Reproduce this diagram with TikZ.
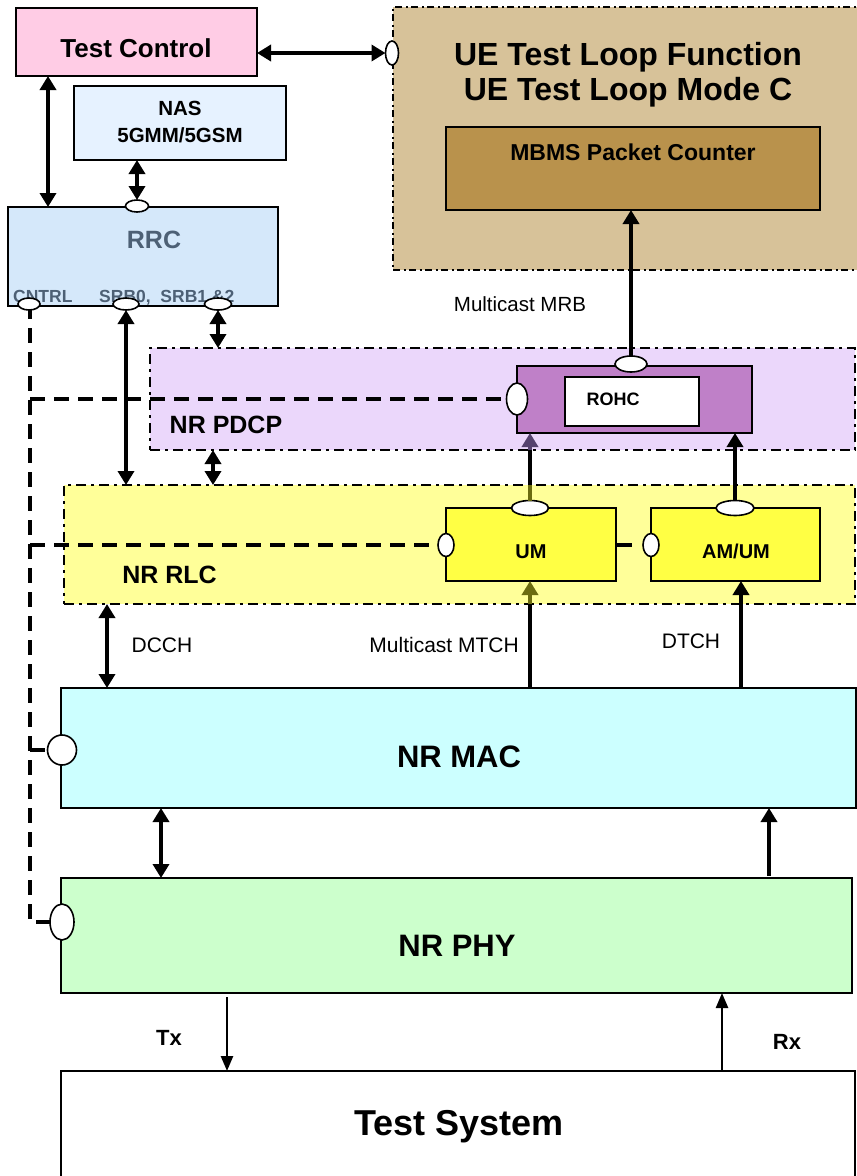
\documentclass[tikz,border=0pt]{standalone}
\usepackage{fontspec}
\setmainfont{Liberation Sans}
\usetikzlibrary{arrows.meta,shapes.geometric,fit}
\newcommand\myfs[1]{\fontsize{#1pt}{#1pt}\selectfont}
\definecolor{tcc}{HTML}{FFCCE5}
\definecolor{nasc}{HTML}{E6F2FF}
\definecolor{rrcc}{HTML}{D5E8FA}
\definecolor{slate}{HTML}{4D6075}
\definecolor{uetan}{HTML}{D7C299}
\definecolor{mbmsc}{HTML}{B9924C}
\definecolor{pdcpc}{HTML}{EBD7FB}
\definecolor{rohcc}{HTML}{BF80C8}
\definecolor{rlcc}{HTML}{FFFF99}
\definecolor{umc}{HTML}{FFFF44}
\definecolor{macc}{HTML}{CCFFFF}
\definecolor{phyc}{HTML}{CCFFCC}
\definecolor{olivec}{HTML}{6B6B10}
\definecolor{purplec}{HTML}{55426E}
\tikzset{
  box/.style={draw, line width=1.6pt, inner sep=0pt, outer sep=0pt},
  cont/.style={draw, line width=2.4pt, dash pattern=on 10pt off 5pt on 3pt off 5pt, inner sep=0pt, outer sep=0pt},
  port/.style={ellipse, draw, fill=white, line width=1.6pt, inner sep=0pt, outer sep=0pt},
  ctrl/.style={line width=3.2pt, dash pattern=on 15pt off 9pt},
  arrboth/.style={line width=4pt, {Triangle[length=14pt,width=16pt]}-{Triangle[length=14pt,width=16pt]}},
  arrend/.style={line width=4pt, -{Triangle[length=14pt,width=16pt]}},
  arrthin/.style={line width=2.5pt, -{Triangle[length=15pt,width=12pt]}},
  txt/.style={anchor=base, inner sep=0pt},
}
\begin{document}
\begin{tikzpicture}[x=1pt,y=-1pt]
\useasboundingbox (0,0) rectangle (857,1176);
\fill[white] (0,0) rectangle (857,1176);

% column coordinates
\coordinate (cA) at (48,0);
\coordinate (cC) at (213,0);
\coordinate (cD) at (107,0);
\coordinate (cE) at (161,0);
\coordinate (cF) at (741,0);
\coordinate (cG) at (769,0);
\coordinate (cH) at (227,0);
\coordinate (cI) at (722,0);
\coordinate (cJ) at (30,0);
% port positions
\coordinate (c_ue) at (392,53);
\coordinate (c_rohcl) at (517,399);
\coordinate (c_uml) at (446,545);
\coordinate (c_amuml) at (651,545);
\coordinate (c_mac) at (62,750);
\coordinate (c_phy) at (62,922);
\coordinate (c_cntrl) at (29,304);

% containers
\node[cont, line width=1.8pt, dash pattern=on 7pt off 3.5pt on 2pt off 3.5pt, fill=uetan, fit={(393,7)(866,270)}] (ue) {};
\node[cont, fill=pdcpc, fit={(150,348)(855,450)}] (pdcp) {};
\node[cont, fill=rlcc, fit={(64,485)(855,604)}] (rlc) {};

% boxes
\node[box, fill=tcc, fit={(16,8)(257,76)}] (tc) {};
\node[box, fill=nasc, fit={(74,86)(286,160)}] (nas) {};
\node[box, fill=rrcc, fit={(8,207)(278,306)}] (rrc) {};
\node[box, fill=mbmsc, fit={(446,127)(820,210)}] (mbms) {};
\node[box, fill=macc, fit={(61,688)(856,808)}] (mac) {};
\node[box, fill=phyc, fit={(61,878)(852,993)}] (phy) {};
\node[box, line width=2pt, fill=white, fit={(61,1071)(855,1192)}] (ts) {};
\node[box, fill=rohcc, fit={(517,366)(752,433)}] (rohc) {};
\node[box, fill=white, fit={(565,377)(699,426)}] (rohcin) {};
\node[box, fill=umc, fit={(446,508)(616,581)}] (um) {};
\node[box, fill=umc, fit={(651,508)(820,581)}] (amum) {};

% control (dashed) lines
\draw[ctrl] (c_cntrl -| cJ) -- (c_phy -| cJ) -- (c_phy);
\draw[ctrl] (c_rohcl -| cJ) -- (c_rohcl);
\draw[ctrl] (c_uml -| cJ) -- (c_uml);
\draw[ctrl] (c_mac -| cJ) -- (c_mac);
\draw[ctrl, dash pattern=on 16pt off 30pt] (um.east |- c_amuml) -- (c_amuml);

% texts
\node[txt, font=\bfseries\myfs{26}] (t_tc) at (136,57) {Test Control};
\node[txt, font=\bfseries\myfs{20.5}] (t_nas1) at (180,115) {NAS};
\node[txt, font=\bfseries\myfs{20.5}] (t_nas2) at (180,142) {5GMM/5GSM};
\node[txt, font=\bfseries\myfs{25}, text=slate] (t_rrc) at (154,248) {RRC};
\node[txt, anchor=base west, font=\bfseries\myfs{17.5}, text=slate] (t_cntrl) at (13,302) {CNTRL};
\node[txt, anchor=base west, font=\bfseries\myfs{17.5}, text=slate] (t_srb) at (99,302) {SRB0,\ \ SRB1 \&2};
\node[txt, font=\bfseries\myfs{32}] (t_ue1) at (628,65) {UE Test Loop Function};
\node[txt, font=\bfseries\myfs{32}] (t_ue2) at (628,100) {UE Test Loop Mode C};
\node[txt, font=\bfseries\myfs{23}] (t_mbms) at (633,160) {MBMS Packet Counter};
\node[txt, font=\myfs{20.5}] (t_mrb) at (520,311) {Multicast MRB};
\node[txt, font=\bfseries\myfs{18}] (t_rohc) at (613,405) {ROHC};
\node[txt, font=\bfseries\myfs{25}] (t_pdcp) at (226,433) {NR PDCP};
\node[txt, font=\bfseries\myfs{25}] (t_rlc) at (169.5,583) {NR RLC};
\node[txt, font=\bfseries\myfs{20}] (t_um) at (531,558) {UM};
\node[txt, font=\bfseries\myfs{20}] (t_amum) at (736,558) {AM/UM};
\node[txt, font=\myfs{21}] (t_dcch) at (162,652) {DCCH};
\node[txt, anchor=base east, font=\myfs{21}] (t_mtch) at (519,652) {Multicast MTCH};
\node[txt, font=\myfs{21}] (t_dtch) at (691,648) {DTCH};
\node[txt, font=\bfseries\myfs{31}] (t_mac) at (459,767) {NR MAC};
\node[txt, font=\bfseries\myfs{31}] (t_phy) at (457,956) {NR PHY};
\node[txt, font=\bfseries\myfs{22}] (t_tx) at (169,1045) {Tx};
\node[txt, font=\bfseries\myfs{22}] (t_rx) at (787,1049) {Rx};
\node[txt, font=\bfseries\myfs{36}] (t_ts) at (459,1135) {Test System};

% ports
\node[port, minimum width=13pt, minimum height=24pt] (p_ue) at (c_ue) {};
\node[port, minimum width=21pt, minimum height=32pt] (p_rohcl) at (c_rohcl) {};
\node[port, minimum width=16pt, minimum height=23pt] (p_uml) at (c_uml) {};
\node[port, minimum width=16pt, minimum height=23pt] (p_amuml) at (c_amuml) {};
\node[port, minimum width=29pt, minimum height=30pt] (p_mac) at (c_mac) {};
\node[port, minimum width=24pt, minimum height=36pt] (p_phy) at (c_phy) {};
\node[port, minimum width=22pt, minimum height=12pt] (p_cntrl) at (c_cntrl) {};
\node[port, minimum width=23pt, minimum height=12pt] (p_rrc) at (137,206) {};
\node[port, minimum width=26pt, minimum height=12pt] (p_srb0) at (126,304) {};
\node[port, minimum width=27pt, minimum height=12pt] (p_srb1) at (218,304) {};
\node[port, minimum width=32pt, minimum height=16pt] (p_rohc) at (631,364) {};
\node[port, minimum width=37pt, minimum height=15pt] (p_um) at (530,508) {};
\node[port, minimum width=38pt, minimum height=15pt] (p_amum) at (735,508) {};

% arrows
\draw[arrboth] (tc.south -| cA) -- (rrc.north -| cA);
\draw[arrboth] (nas.south -| p_rrc) -- (p_rrc.north);
\draw[arrboth, line width=3.5pt] (tc.east |- p_ue) -- (p_ue.west);
\draw[arrend, line width=3.5pt] (p_rohc.north) -- (mbms.south -| p_rohc);
\draw[arrboth] (p_srb1.south) -- (pdcp.north -| p_srb1);
\draw[arrboth] (p_srb0.south) -- (rlc.north -| p_srb0);
\draw[arrboth] (pdcp.south -| cC) -- (rlc.north -| cC);
% UM -> ROHC (partly tinted)
\draw[arrend, purplec] (p_um.north) -- (rohc.south -| p_um);
\draw[line width=4pt] (rlc.north -| p_um) -- (pdcp.south -| p_um);
\draw[line width=4pt, olivec] (p_um.north) -- (rlc.north -| p_um);
\draw[arrend] (p_amum.north) -- (rohc.south -| p_amum);
% MAC -> UM (partly tinted)
\draw[arrend, olivec] (mac.north -| p_um) -- (um.south -| p_um);
\draw[line width=4pt] (mac.north -| p_um) -- (rlc.south -| p_um);
\draw[arrend] (mac.north -| cF) -- (amum.south -| cF);
\draw[arrboth] (rlc.south -| cD) -- (mac.north -| cD);
\draw[arrboth] (mac.south -| cE) -- (phy.north -| cE);
\draw[arrend, shorten <=2pt] (phy.north -| cG) -- (mac.south -| cG);
\draw[arrthin, shorten <=4pt] (phy.south -| cH) -- (ts.north -| cH);
\draw[arrthin] (ts.north -| cI) -- (phy.south -| cI);
\end{tikzpicture}
\end{document}
